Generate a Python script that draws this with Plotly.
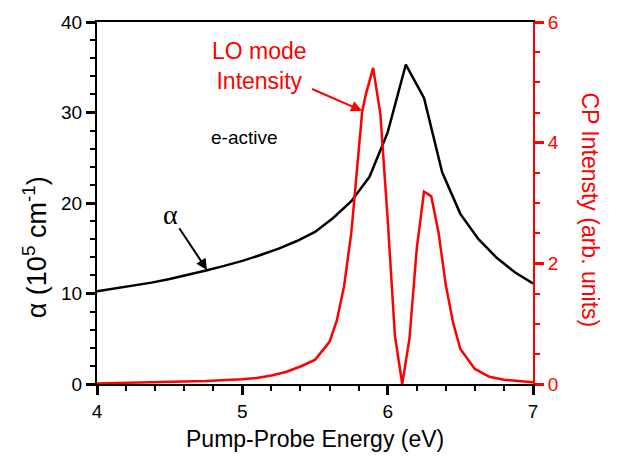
import plotly.graph_objects as go

# alpha (left axis, 10^5 cm^-1)
alpha_x = [4.0, 4.125, 4.25, 4.375, 4.5, 4.625, 4.75, 4.875, 5.0, 5.125, 5.25, 5.375,
           5.5, 5.625, 5.75, 5.875, 6.0, 6.125, 6.25, 6.375, 6.5, 6.625, 6.75, 6.875, 7.0]
alpha_y = [10.25, 10.55, 10.85, 11.2, 11.6, 12.05, 12.55, 13.05, 13.6, 14.25, 14.95, 15.8,
           16.8, 18.35, 20.2, 22.9, 27.8, 35.3, 31.6, 23.4, 18.8, 16.0, 13.95, 12.35, 11.1]

# CP intensity (right axis, arb. units)
cp_x = [4.0, 4.25, 4.5, 4.75, 5.0, 5.1, 5.2, 5.3, 5.4, 5.5, 5.6, 5.65, 5.7, 5.75,
        5.825, 5.85, 5.9, 5.95, 6.0, 6.05, 6.1, 6.15, 6.2, 6.25, 6.3, 6.35, 6.4,
        6.45, 6.5, 6.6, 6.7, 6.8, 6.9, 7.0]
cp_y = [0.01, 0.02, 0.03, 0.05, 0.08, 0.1, 0.14, 0.2, 0.29, 0.4, 0.7, 1.05, 1.62, 2.51,
        4.52, 4.8, 5.24, 4.47, 2.73, 0.8, 0.0, 0.75, 2.24, 3.19, 3.11, 2.51, 1.64,
        1.02, 0.58, 0.25, 0.12, 0.07, 0.05, 0.03]

FONT = "Arial"
RED = "#ff0000"

fig = go.Figure()
fig.add_trace(go.Scatter(x=alpha_x, y=alpha_y, mode="lines",
                         line=dict(color="black", width=2.5), showlegend=False))
fig.add_trace(go.Scatter(x=cp_x, y=cp_y, mode="lines", yaxis="y2",
                         line=dict(color=RED, width=2.5), showlegend=False))

fig.update_layout(
    width=622, height=456,
    margin=dict(l=97, r=89, t=16, b=72),
    plot_bgcolor="white",
    xaxis=dict(range=[4, 7], dtick=1, showline=True, linecolor="black", linewidth=2,
               mirror=True, showgrid=False, zeroline=False,
               ticks="outside", ticklen=9, tickwidth=2.5, tickcolor="black",
               minor=dict(dtick=0.2, ticks="outside", ticklen=5, tickwidth=2, tickcolor="black"),
               tickfont=dict(size=19, family=FONT, color="black")),
    yaxis=dict(range=[0, 40], dtick=10, showline=True, linecolor="black", linewidth=2,
               showgrid=False, zeroline=False,
               ticks="outside", ticklen=9, tickwidth=2.5, tickcolor="black",
               minor=dict(dtick=2, ticks="outside", ticklen=5, tickwidth=2, tickcolor="black"),
               tickfont=dict(size=19, family=FONT, color="black")),
    yaxis2=dict(range=[0, 6], dtick=2, overlaying="y", side="right", anchor="x",
                showline=True, linecolor=RED, linewidth=2, showgrid=False, zeroline=False,
                ticks="outside", ticklen=9, tickwidth=2.5, tickcolor=RED,
                minor=dict(dtick=0.5, ticks="outside", ticklen=5, tickwidth=2, tickcolor=RED),
                tickfont=dict(size=19, family=FONT, color=RED)),
)

annotations = [
    dict(text="Pump-Probe Energy (eV)", xref="paper", yref="paper", x=0.5, y=-0.151,
         showarrow=False, font=dict(size=23, color="black", family=FONT),
         xanchor="center", yanchor="middle"),
    dict(text="α (10<sup>5</sup> cm<sup>-1</sup>)", xref="paper", yref="paper", x=-0.142, y=0.378,
         showarrow=False, textangle=-90, font=dict(size=27, color="black", family=FONT),
         xanchor="center", yanchor="middle"),
    dict(text="CP Intensty (arb. units)", xref="paper", yref="paper", x=1.131, y=0.482,
         showarrow=False, textangle=90, font=dict(size=23, color=RED, family=FONT),
         xanchor="center", yanchor="middle"),
    dict(text="e-active", x=5.014, y=27.27, xref="x", yref="y", showarrow=False,
         font=dict(size=19, color="black", family=FONT), xanchor="center", yanchor="middle"),
    # labels with arrows (text at the arrow tail, head at the curve)
    dict(text="LO mode<br>Intensity", x=5.824, y=30.2, xref="x", yref="y",
         ax=-102.7, ay=-44.5, showarrow=True, arrowhead=2, arrowsize=1.1,
         arrowwidth=2, arrowcolor=RED, standoff=0, startstandoff=4,
         font=dict(size=23, color=RED, family=FONT), align="center"),
    dict(text="α", x=4.757, y=12.6, xref="x", yref="y", ax=-36.7, ay=-55.3,
         showarrow=True, arrowhead=2, arrowsize=1.1, arrowwidth=2, arrowcolor="black",
         standoff=0, font=dict(size=28, color="black", family="Liberation Serif")),
]
fig.update_layout(annotations=annotations)

fig.write_html("out.html")
